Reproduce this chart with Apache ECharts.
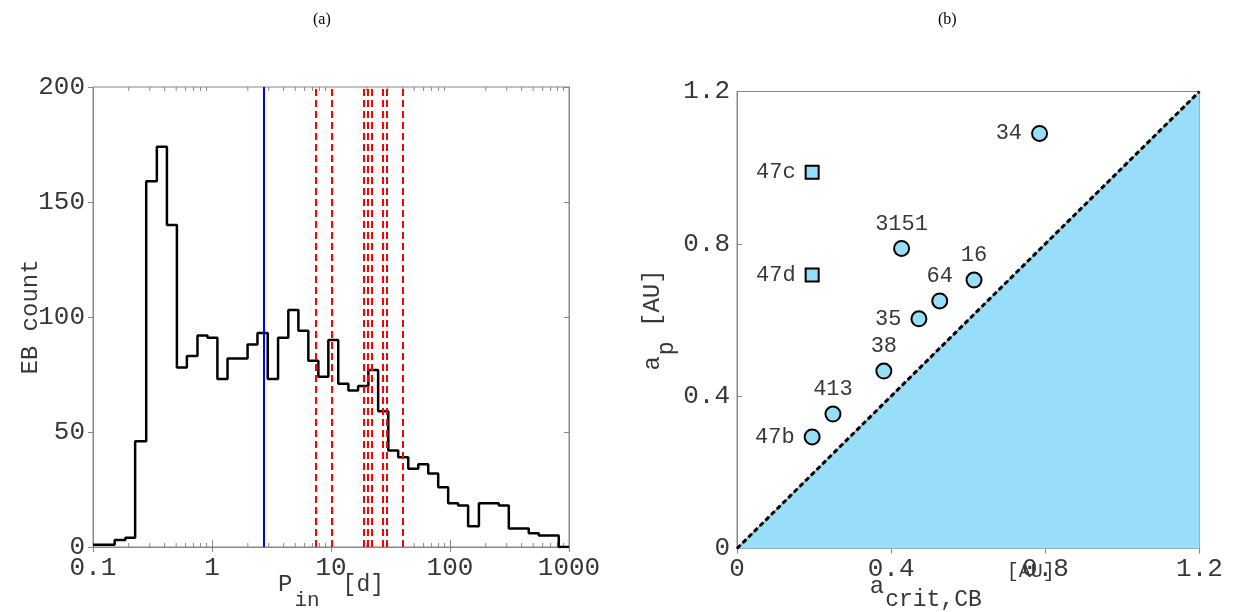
<!DOCTYPE html>
<html><head><meta charset="utf-8">
<script src="https://cdn.jsdelivr.net/npm/echarts@6/dist/echarts.min.js"></script>
<style>html,body{margin:0;padding:0;background:#fff}#c{width:1240px;height:612px}</style>
</head><body><div id="c"></div>
<script>
// ---------- Panel (a): histogram of EB inner periods ----------
const pEdges = [0.1, 0.152, 0.187, 0.226, 0.280, 0.344, 0.418, 0.507, 0.615, 0.755, 0.916,
  1.11, 1.35, 1.64, 1.99, 2.41, 2.94, 3.59, 4.38, 5.32, 6.45, 7.83, 9.50,
  11.5, 14.0, 16.9, 20.6, 24.9, 30.3, 36.7, 44.6, 54.1, 65.6, 79.6, 96.5,
  117, 142, 175, 212, 257, 312, 378, 459, 557, 676, 820, 1000];
const ebCounts = [1, 3, 4, 46, 159, 174, 140, 78, 83, 92, 91, 73, 82, 82, 88, 93, 73, 91, 103, 94,
  81, 74, 90, 71, 68, 70, 77, 59, 42, 39, 34, 36, 32, 26, 19, 18, 9, 19, 19, 18,
  8, 8, 6, 5, 5, 0];
const blueLineP = [2.7];
const redLinesP = [7.4, 10.1, 18.8, 20.3, 21.8, 27.3, 29.3, 40];
const xTickLabelsA = ['0.1', '1', '10', '100', '1000'];
const minorTicksA = [0.2,0.3,0.4,0.5,0.6,0.7,0.8,0.9, 2,3,4,5,6,7,8,9, 20,30,40,50,60,70,80,90, 200,300,400,500,600,700,800,900];

// ---------- Panel (b): a_p vs a_crit ----------
const cbpNames = ['47b', '413', '38', '35', '64', '16', '3151', '34'];
const cbpACrit = [0.195, 0.249, 0.381, 0.472, 0.526, 0.615, 0.427, 0.785];
const cbpAp    = [0.293, 0.353, 0.466, 0.603, 0.650, 0.705, 0.788, 1.090];
const outerNames = ['47c', '47d'];
const outerACrit = [0.195, 0.195];
const outerAp    = [0.988, 0.718];
const diagX = [0, 1.2];
const diagY = [0, 1.2];

// ---------- styling ----------
const MONO = '"Liberation Mono", "DejaVu Sans Mono", monospace';
const TXT = '#383838';
const AX = '#888';
const FILL = '#98def9';
const leftLabelled = new Set(['47b', '35', '34', '47c', '47d']);

const histData = pEdges.slice(0, ebCounts.length).map((p, i) => [p, ebCounts[i]]);
histData.push([pEdges[pEdges.length - 1], 0]);

function pts(names, xs, ys) {
  return names.map((n, i) => ({
    name: n, value: [xs[i], ys[i]],
    label: leftLabelled.has(n) ? { position: 'left', distance: 9 } : { position: 'top', distance: 5 }
  }));
}

const chart = echarts.init(document.getElementById('c'), null, { renderer: 'canvas' });
const tickLabel = { fontFamily: MONO, fontSize: 26, color: TXT };
const titleStyle = { fontFamily: '"Liberation Serif", serif', fontSize: 16, fontWeight: 'normal', color: '#000' };

const option = {
  animation: false,
  backgroundColor: '#fff',
  title: [
    { text: '(a)', left: 308, top: 7, textStyle: titleStyle },
    { text: '(b)', left: 933, top: 7, textStyle: titleStyle }
  ],
  grid: [
    { left: 93, top: 87, width: 476, height: 460, show: true, borderColor: AX, borderWidth: 1, outerBoundsMode: 'none', containLabel: false },
    { left: 737, top: 91.5, width: 462.5, height: 457, show: true, borderColor: AX, borderWidth: 1, outerBoundsMode: 'none', containLabel: false }
  ],
  xAxis: [
    { gridIndex: 0, type: 'log', logBase: 10, min: 0.1, max: 1000, position: 'bottom',
      axisLine: { show: true, lineStyle: { color: AX } },
      axisTick: { show: true, inside: true, length: 7, lineStyle: { color: AX } },
      splitLine: { show: false },
      axisLabel: Object.assign({ margin: 8, showMinLabel: true, showMaxLabel: true,
        formatter: (v, i) => xTickLabelsA[i] }, tickLabel),
      name: '{m|P}{s|in}{d|[d]}', nameLocation: 'middle', nameGap: 11, nameMoveOverlap: false,
      nameTextStyle: { rich: {
        m: { fontFamily: MONO, fontSize: 24, color: TXT },
        s: { fontFamily: MONO, fontSize: 21, color: TXT, padding: [32, 0, 0, 2] },
        d: { fontFamily: MONO, fontSize: 23, color: TXT, padding: [0, 0, 0, 23] }
      } }
    },
    { gridIndex: 0, type: 'log', logBase: 10, min: 0.1, max: 1000, position: 'top',
      axisLine: { show: true, lineStyle: { color: AX } },
      axisTick: { show: true, inside: true, length: 5, lineStyle: { color: AX } },
      splitLine: { show: false }, axisLabel: { show: false } },
    { gridIndex: 1, type: 'value', min: 0, max: 1.2, interval: 0.4, position: 'bottom',
      axisLine: { show: true, lineStyle: { color: AX } },
      axisTick: { show: false }, splitLine: { show: false },
      axisLabel: Object.assign({ margin: 8, showMinLabel: true, showMaxLabel: true }, tickLabel),
      name: '{m|a}{s|crit,CB}{u|[AU]}', nameLocation: 'middle', nameGap: 13, nameMoveOverlap: false,
      nameTextStyle: { rich: {
        m: { fontFamily: MONO, fontSize: 24, color: TXT },
        s: { fontFamily: MONO, fontSize: 23, color: TXT, padding: [26, 0, 0, 1] },
        u: { fontFamily: MONO, fontSize: 20, color: TXT, padding: [0, 12, 30, 25] }
      } }
    },
    { gridIndex: 1, type: 'value', min: 0, max: 1.2, interval: 0.4, position: 'top',
      axisLine: { show: true, lineStyle: { color: AX } },
      axisTick: { show: true, inside: true, length: 5, lineStyle: { color: AX } },
      splitLine: { show: false }, axisLabel: { show: false } }
  ],
  yAxis: [
    { gridIndex: 0, type: 'value', min: 0, max: 200, interval: 50, position: 'left',
      axisLine: { show: true, lineStyle: { color: AX } },
      axisTick: { show: true, inside: false, length: 5, lineStyle: { color: AX } },
      splitLine: { show: false },
      axisLabel: Object.assign({ margin: 8, showMinLabel: true, showMaxLabel: true }, tickLabel),
      name: 'EB count', nameLocation: 'middle', nameGap: 50, nameMoveOverlap: false,
      nameTextStyle: { fontFamily: MONO, fontSize: 24, color: TXT }
    },
    { gridIndex: 0, type: 'value', min: 0, max: 200, interval: 50, position: 'right',
      axisLine: { show: true, lineStyle: { color: AX } },
      axisTick: { show: true, inside: true, length: 5, lineStyle: { color: AX } },
      splitLine: { show: false }, axisLabel: { show: false } },
    { gridIndex: 1, type: 'value', min: 0, max: 1.2, interval: 0.4, position: 'left',
      axisLine: { show: true, lineStyle: { color: AX } },
      axisTick: { show: true, inside: true, length: 5, lineStyle: { color: AX } },
      splitLine: { show: false },
      axisLabel: Object.assign({ margin: 7, showMinLabel: true, showMaxLabel: true }, tickLabel),
      name: '{m|a}{s|p}{m| [AU]}', nameLocation: 'middle', nameGap: 59, nameMoveOverlap: false,
      nameTextStyle: { rich: {
        m: { fontFamily: MONO, fontSize: 24, color: TXT },
        s: { fontFamily: MONO, fontSize: 23, color: TXT, padding: [28, 0, 0, 1] }
      } }
    },
    { gridIndex: 1, type: 'value', min: 0, max: 1.2, interval: 0.4, position: 'right',
      axisLine: { show: true, lineStyle: { color: AX } },
      axisTick: { show: false }, splitLine: { show: false }, axisLabel: { show: false } }
  ],
  series: [
    { type: 'custom', xAxisIndex: 0, yAxisIndex: 0, silent: true, clip: false, z: 1,
      data: minorTicksA.map(v => [v, 0]),
      renderItem(params, api) {
        const x = api.coord([api.value(0), 0])[0];
        const cs = params.coordSys;
        const b = cs.y + cs.height;
        return { type: 'group', children: [
          { type: 'line', shape: { x1: x, y1: b, x2: x, y2: b - 4 }, style: { stroke: AX, lineWidth: 1 } },
          { type: 'line', shape: { x1: x, y1: cs.y, x2: x, y2: cs.y + 4 }, style: { stroke: AX, lineWidth: 1 } }
        ] };
      }
    },
    { type: 'line', xAxisIndex: 0, yAxisIndex: 0, data: histData, step: 'end', symbol: 'none', z: 3,
      lineStyle: { color: '#000', width: 2.5 },
      markLine: { silent: true, symbol: ['none', 'none'], label: { show: false }, animation: false,
        data: blueLineP.map(v => ({ xAxis: v, lineStyle: { color: '#0000ff', width: 2, type: 'solid' } }))
          .concat(redLinesP.map(v => ({ xAxis: v, lineStyle: { color: '#ff0000', width: 2, type: [7, 4] } })))
      }
    },
    { type: 'line', xAxisIndex: 2, yAxisIndex: 2, data: diagX.map((x, i) => [x, diagY[i]]), symbol: 'none', z: 2,
      lineStyle: { color: '#777', width: 1 }, areaStyle: { color: FILL, opacity: 1 } },
    { type: 'line', xAxisIndex: 2, yAxisIndex: 2, data: diagX.map((x, i) => [x, diagY[i]]), symbol: 'none', z: 3,
      lineStyle: { color: '#000', width: 3, type: [5, 3] } },
    { type: 'scatter', xAxisIndex: 2, yAxisIndex: 2, z: 5, symbol: 'circle', symbolSize: 15,
      itemStyle: { color: FILL, borderColor: '#000', borderWidth: 2, opacity: 1 },
      label: { show: true, formatter: '{b}', fontFamily: MONO, fontSize: 22, color: TXT },
      data: pts(cbpNames, cbpACrit, cbpAp) },
    { type: 'scatter', xAxisIndex: 2, yAxisIndex: 2, z: 5, symbol: 'rect', symbolSize: 13,
      itemStyle: { color: FILL, borderColor: '#000', borderWidth: 2, opacity: 1 },
      label: { show: true, formatter: '{b}', fontFamily: MONO, fontSize: 22, color: TXT },
      data: pts(outerNames, outerACrit, outerAp) }
  ]
};
chart.setOption(option);
</script></body></html>
